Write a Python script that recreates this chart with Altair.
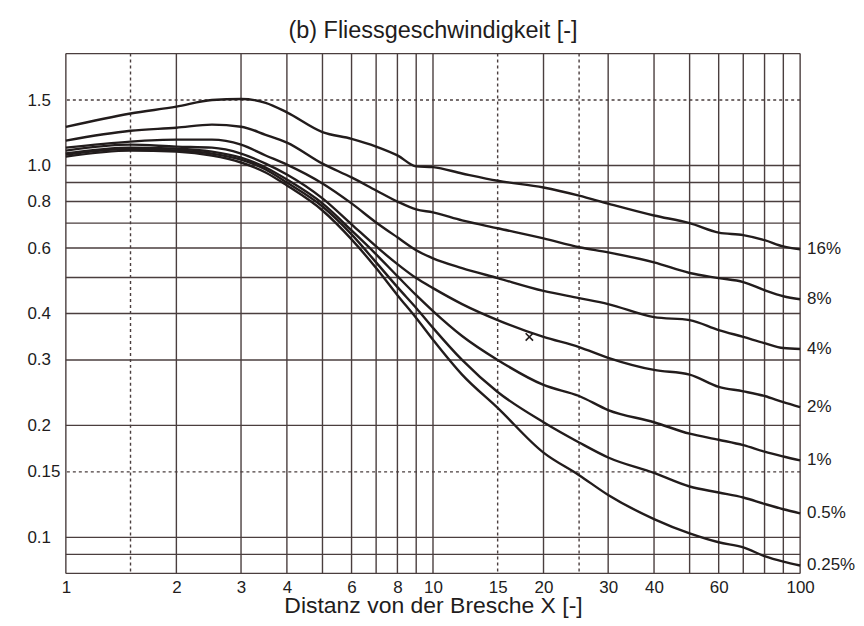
import altair as alt
import pandas as pd

# ---- data ----
x_vals = [1, 1.5, 2, 2.5, 3, 3.5, 4, 5, 6, 7, 8, 9, 10, 12, 15, 20, 25, 30, 40, 50, 60, 70, 80, 90, 100]

v16 = [1.27, 1.38, 1.44, 1.50, 1.51, 1.475, 1.39, 1.23, 1.18, 1.125, 1.065, 0.995, 0.99, 0.952, 0.91, 0.873,
       0.83, 0.79, 0.734, 0.70, 0.66, 0.65, 0.63, 0.606, 0.595]
v8 = [1.167, 1.24, 1.264, 1.288, 1.272, 1.21, 1.153, 1.012, 0.929, 0.857, 0.80, 0.762, 0.748, 0.712, 0.678, 0.637,
      0.603, 0.584, 0.549, 0.514, 0.498, 0.486, 0.462, 0.445, 0.437]
v4 = [1.117, 1.16, 1.174, 1.174, 1.138, 1.064, 1.006, 0.895, 0.791, 0.703, 0.641, 0.592, 0.563, 0.53, 0.498, 0.46,
      0.44, 0.424, 0.391, 0.384, 0.361, 0.346, 0.333, 0.323, 0.321]
v2 = [1.097, 1.138, 1.124, 1.117, 1.077, 1.012, 0.946, 0.816, 0.695, 0.606, 0.543, 0.498, 0.468, 0.424, 0.384, 0.346,
      0.325, 0.304, 0.282, 0.274, 0.254, 0.247, 0.24, 0.231, 0.224]
v1 = [1.077, 1.117, 1.11, 1.09, 1.05, 0.988, 0.917, 0.791, 0.669, 0.577, 0.504, 0.448, 0.406, 0.348, 0.30, 0.257,
      0.24, 0.22, 0.204, 0.19, 0.183, 0.177, 0.17, 0.165, 0.161]
v05 = [1.07, 1.11, 1.097, 1.077, 1.037, 0.976, 0.90, 0.776, 0.653, 0.549, 0.471, 0.414, 0.366, 0.30, 0.246, 0.204,
       0.18, 0.164, 0.149, 0.137, 0.132, 0.128, 0.123, 0.119, 0.116]
v025 = [1.057, 1.097, 1.09, 1.064, 1.019, 0.958, 0.884, 0.757, 0.633, 0.530, 0.448, 0.389, 0.340, 0.274, 0.223, 0.169,
        0.147, 0.130, 0.112, 0.1025, 0.097, 0.094, 0.089, 0.086, 0.084]

series_names = ["16%", "8%", "4%", "2%", "1%", "0.5%", "0.25%"]
series_vals = [v16, v8, v4, v2, v1, v05, v025]
label_dy = [0, 0, 0, 0, 0, 0, -5]

marker_x = [18.3]
marker_y = [0.346]

x_grid_solid = [2, 3, 4, 5, 6, 7, 8, 9, 10, 20, 30, 40, 50, 60, 70, 80, 90]
x_grid_dotted = [1.5, 15, 25]
x_frame = [1, 100]
y_grid_solid = [0.09, 0.1, 0.2, 0.3, 0.4, 0.5, 0.6, 0.7, 0.8, 0.9, 1.0]
y_grid_dotted = [0.15, 1.5]
y_frame = [0.08, 2.0]

x_ticks = [1, 2, 3, 4, 6, 8, 10, 15, 20, 30, 40, 60, 100]
y_ticks = [0.1, 0.15, 0.2, 0.3, 0.4, 0.6, 0.8, 1.0, 1.5]

# ---- tables ----
rows = []
for name, vals in zip(series_names, series_vals):
    for xv, yv in zip(x_vals, vals):
        rows.append({"series": name, "x": xv, "y": yv})
df = pd.DataFrame(rows)

lab = pd.DataFrame({"series": series_names,
                    "x": [x_vals[-1]] * len(series_names),
                    "y": [v[-1] for v in series_vals],
                    "dy": label_dy})

INK = "#221c1c"
GRID = "#4a3e3e"
FONT = "Liberation Sans"

xs = alt.Scale(type="log", domain=[1, 100], nice=False)
ys = alt.Scale(type="log", domain=[0.08, 2.0], nice=False, zero=False)

vgrid = alt.Chart(pd.DataFrame({"x": x_grid_solid + x_frame})).mark_rule(
    color=GRID, strokeWidth=1.4).encode(x=alt.X("x:Q", scale=xs))
vdot = alt.Chart(pd.DataFrame({"x": x_grid_dotted})).mark_rule(
    color=GRID, strokeWidth=1.4, strokeDash=[3, 3]).encode(x=alt.X("x:Q", scale=xs))
hgrid = alt.Chart(pd.DataFrame({"y": y_grid_solid + y_frame})).mark_rule(
    color=GRID, strokeWidth=1.4).encode(y=alt.Y("y:Q", scale=ys))
hdot = alt.Chart(pd.DataFrame({"y": y_grid_dotted})).mark_rule(
    color=GRID, strokeWidth=1.4, strokeDash=[3, 3]).encode(y=alt.Y("y:Q", scale=ys))

lines = alt.Chart(df).mark_line(color=INK, strokeWidth=2.4, interpolate="monotone").encode(
    x=alt.X("x:Q", scale=xs,
            axis=alt.Axis(values=x_ticks, title="Distanz von der Bresche X [-]", labelFontSize=17,
                          labelFont=FONT, labelColor=INK, labelPadding=6, titleFont=FONT,
                          titleFontSize=23, titleFontWeight="normal", titleColor=INK,
                          titleBaseline="alphabetic", titleY=39,
                          labelFlush=False, labelOverlap=False, format="~g")),
    y=alt.Y("y:Q", scale=ys,
            axis=alt.Axis(values=y_ticks, title=None, labelFontSize=17, labelFont=FONT,
                          labelColor=INK, labelAlign="left", labelPadding=39, labelFlush=False,
                          labelOverlap=False,
                          labelExpr="datum.value == 1 ? '1.0' : toString(datum.value)")),
    detail="series:N",
)

labels = alt.Chart(lab).mark_text(align="left", baseline="middle", dx=7, font=FONT, fontSize=17,
                                  color=INK).encode(
    x=alt.X("x:Q", scale=xs), y=alt.Y("y:Q", scale=ys), text="series:N", yOffset="dy:Q")

marker = alt.Chart(pd.DataFrame({"x": marker_x, "y": marker_y})).mark_point(
    shape="M-1,-1L1,1M-1,1L1,-1", filled=False, size=55, strokeWidth=1.6, color=INK, opacity=1).encode(
    x=alt.X("x:Q", scale=xs), y=alt.Y("y:Q", scale=ys))

chart = alt.layer(vgrid, vdot, hgrid, hdot, lines, labels, marker).properties(
    width=736, height=521,
    title=alt.TitleParams("(b) Fliessgeschwindigkeit [-]", font=FONT, fontSize=23.5, fontWeight="normal",
                          color=INK, offset=10),
    padding={"left": 58, "top": 45, "right": 56, "bottom": 44},
    autosize=alt.AutoSizeParams(type="none"),
).configure_view(stroke=None).configure_axis(domain=False, ticks=False, grid=False)

chart.save("out.html", embed_options={"renderer": "svg", "actions": False})
